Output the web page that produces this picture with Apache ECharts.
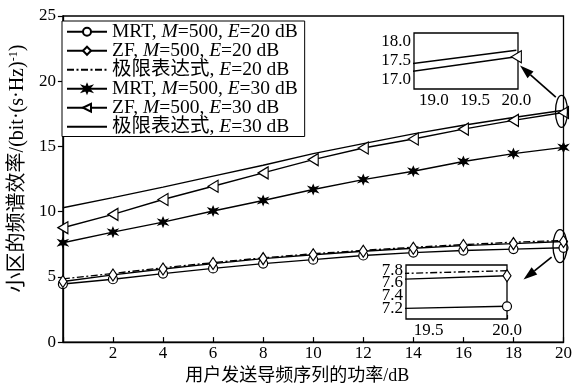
<!DOCTYPE html>
<html>
<head>
<meta charset="utf-8">
<script src="https://cdn.jsdelivr.net/npm/echarts@6/dist/echarts.min.js"></script>
<style>
  html, body { margin: 0; padding: 0; background: #fff; }
  #chart { width: 575px; height: 390px; }
</style>
</head>
<body>
<div id="chart"></div>
<script>
// Pilot transmit power (dB) and spectral efficiency of each scheme
const powerDb = [0, 2, 4, 6, 8, 10, 12, 14, 16, 18, 20];
const mrt20   = [4.45, 4.82, 5.25, 5.65, 6.02, 6.32, 6.64, 6.86, 7.02, 7.13, 7.23];
const zf20    = [4.65, 5.15, 5.60, 6.02, 6.40, 6.70, 6.97, 7.20, 7.40, 7.55, 7.71];
const limit20 = [4.85, 5.26, 5.70, 6.09, 6.46, 6.77, 7.03, 7.27, 7.47, 7.66, 7.79];
const mrt30   = [7.62, 8.43, 9.20, 10.05, 10.86, 11.70, 12.46, 13.10, 13.85, 14.45, 14.93];
const zf30    = [8.77, 9.79, 10.93, 11.95, 12.97, 13.99, 14.88, 15.57, 16.33, 17.00, 17.60];
const limit30 = [10.30, 11.08, 11.88, 12.72, 13.56, 14.45, 15.22, 15.96, 16.62, 17.22, 17.77];

const seriesNames = [
  'MRT, M=500, E=20 dB',
  'ZF, M=500, E=20 dB',
  '极限表达式, E=20 dB',
  'MRT, M=500, E=30 dB',
  'ZF, M=500, E=30 dB',
  '极限表达式, E=30 dB'
];

// Tick labels of the two zoomed views
const zoomHighX = [19.0, 19.5, 20.0];
const zoomHighY = [17.0, 17.5, 18.0];
const zoomLowX  = [19.5, 20.0];
const zoomLowY  = [7.2, 7.4, 7.6, 7.8];

const SERIF = "'Liberation Serif', 'Times New Roman', 'Noto Sans CJK SC', serif";
const BLACK = '#000';

const pairs = arr => powerDb.map((x, i) => [x, arr[i]]);

const STAR = 'path://M5,0L6.2,3.2L9.5,2L7.2,5L9.5,8L6.2,6.8L5,10L3.8,6.8L0.5,8L2.8,5L0.5,2L3.8,3.2Z';
const LEFT_TRIANGLE = 'path://M0,5L10,0L10,10Z';

const styles = {
  mrt20:   { symbol: 'circle', symbolSize: 9, fill: '#fff', dash: 'solid' },
  zf20:    { symbol: 'diamond', symbolSize: [8, 12], fill: '#fff', dash: 'solid' },
  limit20: { symbol: 'none', symbolSize: 0, fill: BLACK, dash: [7, 2.5, 2, 2.5] },
  mrt30:   { symbol: STAR, symbolSize: 9, fill: BLACK, dash: 'solid' },
  zf30:    { symbol: LEFT_TRIANGLE, symbolSize: [10, 12], fill: '#fff', dash: 'solid' },
  limit30: { symbol: 'none', symbolSize: 0, fill: BLACK, dash: 'solid' }
};
const lineOnly = [false, false, true, false, false, true];

function makeSeries(name, values, st, xIdx, yIdx) {
  return {
    name: name,
    type: 'line',
    xAxisIndex: xIdx,
    yAxisIndex: yIdx,
    data: pairs(values),
    symbol: st.symbol,
    symbolSize: st.symbolSize,
    showAllSymbol: true,
    clip: true,
    z: xIdx === 0 ? 3 : 12,
    lineStyle: { color: BLACK, width: 1.4, type: st.dash },
    itemStyle: { color: st.fill, borderColor: BLACK, borderWidth: 1.2 },
    emphasis: { disabled: true },
    animation: false
  };
}

const insetLabel = {
  formatter: v => v.toFixed(1), color: BLACK, fontSize: 17, fontFamily: SERIF, margin: 3,
  showMinLabel: true, showMaxLabel: true
};

function insetX(gridIdx, range, ticks) {
  return {
    type: 'value', gridIndex: gridIdx, min: range[0], max: range[1],
    axisLine: { show: false },
    axisTick: { show: true, inside: true, length: 4, customValues: ticks, lineStyle: { color: BLACK, width: 1.2 } },
    axisLabel: Object.assign({ customValues: ticks }, insetLabel),
    splitLine: { show: false }
  };
}
function insetY(gridIdx, range, ticks) {
  return {
    type: 'value', gridIndex: gridIdx, min: range[0], max: range[1], position: 'left', offset: 0,
    axisLine: { show: false },
    axisTick: { show: true, inside: true, length: 4, customValues: ticks, lineStyle: { color: BLACK, width: 1.2 } },
    axisLabel: Object.assign({ customValues: ticks }, insetLabel),
    splitLine: { show: false }
  };
}

const highXRange = [18.76, 20.02], highYRange = [16.76, 18.22];
const lowXRange = [19.356, 20.0], lowYRange = [7.03, 7.88];

const chart = echarts.init(document.getElementById('chart'), null, { renderer: 'canvas' });

const option = {
  animation: false,
  backgroundColor: '#fff',
  textStyle: { fontFamily: SERIF, color: BLACK },
  grid: [
    { left: 57, right: 8, top: 16, bottom: 47, show: true, borderColor: BLACK, borderWidth: 1.3, backgroundColor: 'transparent' },
    { left: 414, top: 33, width: 104, height: 56, show: true, borderColor: BLACK, borderWidth: 1.3, backgroundColor: '#fff', z: 8 },
    { left: 406, top: 265, width: 101, height: 54, show: true, borderColor: BLACK, borderWidth: 1.3, backgroundColor: '#fff', z: 8 }
  ],
  legend: {
    data: seriesNames.map((n, i) => (lineOnly[i] ? { name: n, itemStyle: { opacity: 0 } } : { name: n })),
    orient: 'vertical',
    left: 62,
    top: 21,
    itemWidth: 40,
    itemHeight: 10,
    itemGap: -0.5,
    padding: [1, 7, 0, 4],
    borderColor: BLACK,
    borderWidth: 1,
    backgroundColor: '#fff',
    selectedMode: false,
    formatter: name => name.replace(/([ME])=/g, '{i|$1}='),
    textStyle: {
      fontFamily: SERIF, fontSize: 19.5, color: BLACK,
      rich: { i: { fontFamily: SERIF, fontSize: 19.5, fontStyle: 'italic', color: BLACK } }
    }
  },
  xAxis: [
    {
      type: 'value', gridIndex: 0, min: 0, max: 20, interval: 2,
      name: '用户发送导频序列的功率/dB',
      nameLocation: 'middle', nameGap: 19,
      nameTextStyle: { fontFamily: SERIF, fontSize: 18, color: BLACK, padding: [0, 32, 0, 0] },
      axisLine: { lineStyle: { color: BLACK, width: 1.3 } },
      axisTick: { inside: true, length: 5, lineStyle: { color: BLACK, width: 1.2 } },
      axisLabel: { formatter: v => (v === 0 ? '' : String(v)), color: BLACK, fontSize: 17, fontFamily: SERIF, margin: 3 },
      splitLine: { show: false }
    },
    insetX(1, highXRange, zoomHighX),
    insetX(2, lowXRange, zoomLowX)
  ],
  yAxis: [
    {
      type: 'value', gridIndex: 0, min: 0, max: 25, interval: 5,
      name: '小区的频谱效率/(bit·(s·Hz){sup|-1})',
      nameLocation: 'middle', nameGap: 28,
      nameTextStyle: {
        fontFamily: SERIF, fontSize: 20, color: BLACK, padding: [0, 0, 0, 21],
        rich: { sup: { fontFamily: SERIF, fontSize: 12, color: BLACK, verticalAlign: 'top', lineHeight: 20 } }
      },
      axisLine: { lineStyle: { color: BLACK, width: 1.3 } },
      axisTick: { inside: false, length: 5, lineStyle: { color: BLACK, width: 1.2 } },
      axisLabel: { color: BLACK, fontSize: 17, fontFamily: SERIF, margin: 7 },
      splitLine: { show: false }
    },
    insetY(1, highYRange, zoomHighY),
    // the closely packed ticks of the lower view are split over two coincident axes
    insetY(2, lowYRange, zoomLowY.filter((v, i) => i % 2 === 0)),
    insetY(2, lowYRange, zoomLowY.filter((v, i) => i % 2 === 1))
  ],
  series: [
    makeSeries(seriesNames[0], mrt20, styles.mrt20, 0, 0),
    makeSeries(seriesNames[1], zf20, styles.zf20, 0, 0),
    makeSeries(seriesNames[2], limit20, styles.limit20, 0, 0),
    makeSeries(seriesNames[3], mrt30, styles.mrt30, 0, 0),
    makeSeries(seriesNames[4], zf30, styles.zf30, 0, 0),
    makeSeries(seriesNames[5], limit30, styles.limit30, 0, 0),
    // zoomed view near 20 dB, E = 30 dB
    makeSeries(seriesNames[5], limit30, styles.limit30, 1, 1),
    makeSeries(seriesNames[4], zf30, styles.zf30, 1, 1),
    // zoomed view near 20 dB, E = 20 dB
    makeSeries(seriesNames[2], limit20, styles.limit20, 2, 2),
    makeSeries(seriesNames[1], zf20, styles.zf20, 2, 2),
    makeSeries(seriesNames[0], mrt20, styles.mrt20, 2, 2)
  ]
};

chart.setOption(option);

// Callout ellipses and arrows linking the curve ends to the zoomed views
function arrow(from, to) {
  const dx = to[0] - from[0], dy = to[1] - from[1];
  const len = Math.hypot(dx, dy);
  const ux = dx / len, uy = dy / len;
  const hl = 14, hw = 4.5;
  const bx = to[0] - ux * hl, by = to[1] - uy * hl;
  return [
    { type: 'line', z: 20, shape: { x1: from[0], y1: from[1], x2: bx, y2: by }, style: { stroke: BLACK, lineWidth: 1.7 } },
    { type: 'polygon', z: 20, shape: { points: [to, [bx - uy * hw, by + ux * hw], [bx + uy * hw, by - ux * hw]] }, style: { fill: BLACK } }
  ];
}

const hiEnd = chart.convertToPixel({ gridIndex: 0 }, [20, (zf30[10] + limit30[10]) / 2]);
const loEnd = chart.convertToPixel({ gridIndex: 0 }, [20, (mrt20[10] + limit20[10]) / 2]);
const hiTip = chart.convertToPixel({ gridIndex: 1 }, [20.02, 17.37]);
const loTip = chart.convertToPixel({ xAxisIndex: 2, yAxisIndex: 2 }, [20.0, 7.65]);

const hiC = [hiEnd[0] - 2, hiEnd[1]];
const loC = [loEnd[0] - 3.5, loEnd[1] + 2];

chart.setOption({
  graphic: [
    { type: 'ellipse', z: 20, shape: { cx: hiC[0], cy: hiC[1], rx: 6, ry: 16 }, style: { fill: null, stroke: BLACK, lineWidth: 1.3 } },
    { type: 'ellipse', z: 20, shape: { cx: loC[0], cy: loC[1], rx: 7, ry: 16.5 }, style: { fill: null, stroke: BLACK, lineWidth: 1.3 } },
    ...arrow([hiC[0] - 5.7, hiC[1] - 14.3], [hiTip[0] + 2, hiTip[1]]),
    ...arrow([loC[0] - 8.4, loC[1] + 11], [loTip[0] + 16.5, loTip[1]])
  ]
});
</script>
</body>
</html>
